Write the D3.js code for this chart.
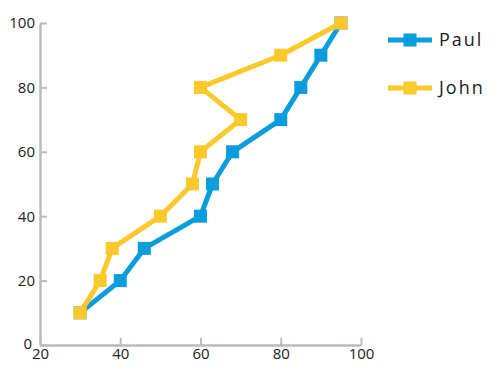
<!DOCTYPE html>
<html>
<head>
<meta charset="utf-8">
<script src="https://cdn.jsdelivr.net/npm/d3@7"></script>
<style>
  body { margin: 0; background: #fff; }
  text { font-family: "Open Sans", sans-serif; fill: #222; }
</style>
</head>
<body>
<div id="chart"></div>
<script>
// data
const seriesNames = ["Paul", "John"];
const paulX = [30, 40, 46, 60, 63, 68, 80, 85, 90, 95];
const paulY = [10, 20, 30, 40, 50, 60, 70, 80, 90, 100];
const johnX = [30, 35, 38, 50, 58, 60, 70, 60, 80, 95];
const johnY = [10, 20, 30, 40, 50, 60, 70, 80, 90, 100];
const xTicks = [20, 40, 60, 80, 100];
const yTicks = [0, 20, 40, 60, 80, 100];
const colors = ["#0a9ddc", "#fcc92b"];

const svgWidth = 500, svgHeight = 375;
const margin = {top: 23, right: 139, bottom: 30, left: 40},
  width = svgWidth - margin.left - margin.right,
  height = svgHeight - margin.top - margin.bottom;

const svg = d3.select("#chart")
  .append("svg")
  .attr("width", svgWidth)
  .attr("height", svgHeight);

const g = svg.append("g")
  .attr("transform", "translate(" + margin.left + "," + margin.top + ")");

const x = d3.scaleLinear().domain([20, 100]).range([0, width]);
const y = d3.scaleLinear().domain([0, 100]).range([height, 0]);

// axes, ticks point inward
const xAxis = g.append("g")
  .attr("transform", "translate(0," + height + ")")
  .call(d3.axisBottom(x).tickValues(xTicks).tickSize(-7).tickPadding(3).tickSizeOuter(0));
const yAxis = g.append("g")
  .call(d3.axisLeft(y).tickValues(yTicks).tickSize(-7).tickPadding(5).tickSizeOuter(0));

[xAxis, yAxis].forEach(a => {
  a.select(".domain").attr("stroke", "#bbb").attr("stroke-width", 2.5);
  a.selectAll(".tick line").attr("stroke", "#bbb").attr("stroke-width", 2);
  a.selectAll("text").style("font-size", "15px").attr("fill", "#222");
});
yAxis.selectAll("text").filter(d => d === 0).attr("dx", "-3").attr("dy", "0.2em");

const series = [
  paulX.map((v, i) => ({x: v, y: paulY[i]})),
  johnX.map((v, i) => ({x: v, y: johnY[i]}))
];

const line = d3.line().x(d => x(d.x)).y(d => y(d.y));
const sq = 13;

series.forEach((pts, i) => {
  const s = g.append("g");
  s.append("path")
    .datum(pts)
    .attr("d", line)
    .attr("fill", "none")
    .attr("stroke", colors[i])
    .attr("stroke-width", 5)
    .attr("stroke-linejoin", "round");
  s.selectAll("rect")
    .data(pts).enter()
    .append("rect")
    .attr("x", d => x(d.x) - sq / 2)
    .attr("y", d => y(d.y) - sq / 2)
    .attr("width", sq)
    .attr("height", sq)
    .attr("fill", colors[i]);
});

// legend
const legend = svg.append("g").attr("transform", "translate(388,40)");
seriesNames.forEach((name, i) => {
  const item = legend.append("g").attr("transform", "translate(0," + i * 48 + ")");
  item.append("line")
    .attr("x1", 0).attr("x2", 44)
    .attr("stroke", colors[i]).attr("stroke-width", 5);
  item.append("rect")
    .attr("x", 22 - 6.5).attr("y", -6.5)
    .attr("width", 13).attr("height", 13)
    .attr("fill", colors[i]);
  item.append("text")
    .attr("x", 51).attr("dy", "0.35em")
    .style("font-size", "18px")
    .style("letter-spacing", "2px")
    .text(name);
});
</script>
</body>
</html>
